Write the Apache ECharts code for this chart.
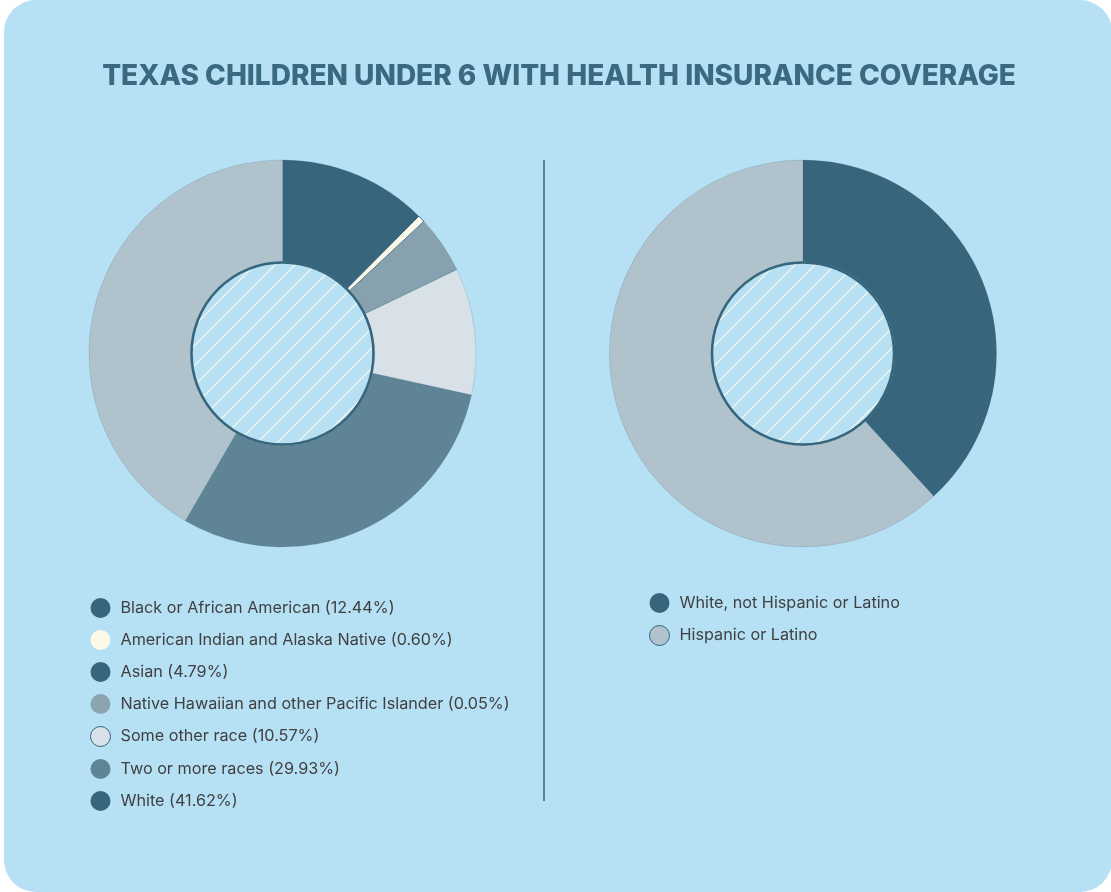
<!DOCTYPE html>
<html>
<head>
<meta charset="utf-8">
<title>Texas Children Under 6 with Health Insurance Coverage</title>
<script src="https://cdn.jsdelivr.net/npm/echarts@6/dist/echarts.min.js"></script>
<style>
  html, body { margin: 0; padding: 0; background: #ffffff; }
  #chart { width: 1111px; height: 892px; }
</style>
</head>
<body>
<div id="chart"></div>
<script>
// Race breakdown (percent of children under 6 with coverage)
const raceNames = [
  'Black or African American',
  'American Indian and Alaska Native',
  'Asian',
  'Native Hawaiian and other Pacific Islander',
  'Some other race',
  'Two or more races',
  'White'
];
const raceShares = [12.44, 0.60, 4.79, 0.05, 10.57, 29.93, 41.62];

// Ethnicity breakdown
const ethnicityNames = ['White, not Hispanic or Latino', 'Hispanic or Latino'];
const ethnicityShares = [38.2, 61.8];

const titleText = 'TEXAS CHILDREN UNDER 6 WITH HEALTH INSURANCE COVERAGE';

// Palettes
const raceSliceColors = ['#36657c', '#fdf9e9', '#87a2ae', '#87a2ae', '#d8e1e8', '#5f8496', '#b0c2cc'];
const raceLegendColors = ['#36657c', '#fdf9e9', '#36657c', '#8aa5b0', '#d8e1e8', '#5f8496', '#36657c'];
const ethnicitySliceColors = ['#36657c', '#b0c2cc'];
const dark = '#36657c';

// Diagonal hatch tile for the donut holes
function hatchTile() {
  const s = 20;
  const c = document.createElement('canvas');
  c.width = s; c.height = s;
  const g = c.getContext('2d');
  g.fillStyle = '#b8e0f3';
  g.fillRect(0, 0, s, s);
  g.strokeStyle = '#eef6ee';
  g.lineWidth = 1.3;
  g.beginPath();
  g.moveTo(-2, s + 2); g.lineTo(s + 2, -2);
  g.moveTo(-2, 2); g.lineTo(2, -2);
  g.moveTo(s - 2, s + 2); g.lineTo(s + 2, s - 2);
  g.stroke();
  return c;
}
const hatch = { image: hatchTile(), repeat: 'repeat' };

const chart = echarts.init(document.getElementById('chart'), null, { renderer: 'canvas' });

const leftCenter = [282.5, 353.5];
const rightCenter = [803, 353.5];
const ringRadius = [92, 193.5];

function ring(names, values, colors, center, outlinedIndex) {
  return {
    type: 'pie',
    center: center,
    radius: ringRadius,
    startAngle: 90,
    clockwise: true,
    silent: true,
    avoidLabelOverlap: false,
    label: { show: false },
    labelLine: { show: false },
    emphasis: { disabled: true },
    data: names.map((n, i) => ({
      name: n,
      value: values[i],
      itemStyle: {
        color: colors[i],
        borderColor: i === outlinedIndex ? dark : 'rgba(54,101,124,0.25)',
        borderWidth: i === outlinedIndex ? 1 : 0.7
      }
    }))
  };
}

function hole(center, name) {
  return {
    type: 'pie',
    center: center,
    radius: [0, 91],
    silent: true,
    label: { show: false },
    labelLine: { show: false },
    emphasis: { disabled: true },
    data: [{
      name: name,
      value: 1,
      itemStyle: { color: hatch, borderColor: dark, borderWidth: 2.5 }
    }]
  };
}

const legendText = {
  fontFamily: 'Inter',
  fontSize: 16.2,
  color: '#404040',
  padding: [0, 0, 0, 5]
};

const option = {
  backgroundColor: '#ffffff',
  animation: false,
  title: {
    text: titleText,
    left: 554,
    textAlign: 'center',
    top: 58,
    textStyle: {
      fontFamily: 'Inter',
      fontWeight: 800,
      fontSize: 28,
      color: '#3a6a81'
    }
  },
  graphic: [
    {
      type: 'rect',
      z: -10,
      silent: true,
      shape: { x: 4, y: 0, width: 1108, height: 892, r: 32 },
      style: { fill: '#b6e0f4' }
    },
    {
      type: 'line',
      silent: true,
      shape: { x1: 544, y1: 160, x2: 544, y2: 801 },
      style: { stroke: dark, lineWidth: 1.5 }
    }
  ],
  legend: [
    {
      orient: 'vertical',
      left: 85,
      top: 593,
      itemWidth: 20,
      itemHeight: 20,
      itemGap: 12,
      icon: 'circle',
      selectedMode: false,
      textStyle: legendText,
      formatter: function (name) {
        const i = raceNames.indexOf(name);
        return name + ' (' + raceShares[i].toFixed(2) + '%)';
      },
      data: raceNames.map((n, i) => ({
        name: n,
        itemStyle: {
          color: raceLegendColors[i],
          borderColor: i === 4 ? dark : raceLegendColors[i],
          borderWidth: i === 4 ? 1 : 0
        }
      }))
    },
    {
      orient: 'vertical',
      left: 644,
      top: 588,
      itemWidth: 20,
      itemHeight: 20,
      itemGap: 12,
      icon: 'circle',
      selectedMode: false,
      textStyle: legendText,
      data: ethnicityNames.map((n, i) => ({
        name: n,
        itemStyle: {
          color: ethnicitySliceColors[i],
          borderColor: i === 1 ? dark : ethnicitySliceColors[i],
          borderWidth: i === 1 ? 1 : 0
        }
      }))
    }
  ],
  series: [
    ring(raceNames, raceShares, raceSliceColors, leftCenter, 1),
    hole(leftCenter, 'left-hole'),
    ring(ethnicityNames, ethnicityShares, ethnicitySliceColors, rightCenter, -1),
    hole(rightCenter, 'right-hole')
  ]
};

chart.setOption(option);
</script>
</body>
</html>
